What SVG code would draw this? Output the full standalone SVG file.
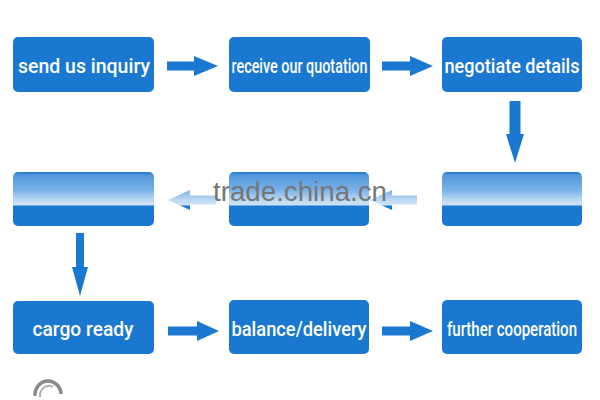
<svg xmlns="http://www.w3.org/2000/svg" width="600" height="400" viewBox="0 0 600 400">
<defs>
<linearGradient id="faded" gradientUnits="userSpaceOnUse" x1="0" y1="172" x2="0" y2="226">
<stop offset="0" stop-color="#1f78cc"/>
<stop offset="0.06" stop-color="#5297dd"/>
<stop offset="0.33" stop-color="#78b0e8"/>
<stop offset="0.52" stop-color="#bcd9f4"/>
<stop offset="0.61" stop-color="#cfe4f7"/>
<stop offset="0.63" stop-color="#1a78d0"/>
<stop offset="1" stop-color="#1a78d0"/>
</linearGradient>
</defs>
<style>
.box{fill:#1a78d0}
.fbox{fill:url(#faded)}
.arrow{fill:#1a78d0}
.farrow{fill:url(#faded)}
.lbl{font-family:Roboto,"Liberation Sans",Arial,sans-serif;font-size:20px;font-weight:500;fill:#ffffff;text-anchor:middle}
.tall{font-size:21px}
.wm{font-family:"Liberation Sans",Arial,sans-serif;font-size:27px;fill:#767676}
</style>
<rect width="600" height="400" fill="#ffffff"/>

<g id="connectors">
<polygon class="arrow" points="167,61.5 194,61.5 194,56 218,66 194,76 194,70.5 167,70.5"/>
<polygon class="arrow" points="382,61.5 410,61.5 410,56 433,66 410,76 410,70.5 382,70.5"/>
<polygon class="arrow" points="509.5,101 520.5,101 520.5,134 524,134 515,163 506,134 509.5,134"/>
<polygon class="farrow" points="417,195.5 392,195.5 392,190 370,200 392,210 392,204.5 417,204.5"/>
<polygon class="farrow" points="216,195.5 190,195.5 190,190 168,200 190,210 190,204.5 216,204.5"/>
<polygon class="arrow" points="76,233 84,233 84,267 88,267 80,296 72,267 76,267"/>
<polygon class="arrow" points="168,326.5 197,326.5 197,321 219,331 197,341 197,335.5 168,335.5"/>
<polygon class="arrow" points="382,326.5 410,326.5 410,321 433,331 410,341 410,335.5 382,335.5"/>
</g>

<g id="n1"><rect class="box" x="13" y="37" width="141" height="55" rx="5"/><text class="lbl" x="84" y="73" textLength="132" lengthAdjust="spacingAndGlyphs">send us inquiry</text></g>
<g id="n2"><rect class="box" x="229" y="37" width="141" height="55" rx="5"/><text class="lbl tall" x="299.5" y="73" textLength="136" lengthAdjust="spacingAndGlyphs">receive our quotation</text></g>
<g id="n3"><rect class="box" x="442" y="37" width="140" height="55" rx="5"/><text class="lbl tall" x="512" y="73" textLength="135" lengthAdjust="spacingAndGlyphs">negotiate details</text></g>

<g id="n4"><rect class="fbox" x="442" y="172" width="140" height="54" rx="5"/></g>
<g id="n5"><rect class="fbox" x="229" y="172" width="140" height="54" rx="5"/></g>
<g id="n6"><rect class="fbox" x="13" y="172" width="141" height="54" rx="5"/></g>

<g id="n7"><rect class="box" x="13" y="301" width="141" height="53" rx="5"/><text class="lbl" x="83" y="336" textLength="101" lengthAdjust="spacingAndGlyphs">cargo ready</text></g>
<g id="n8"><rect class="box" x="229" y="300" width="140" height="54" rx="5"/><text class="lbl tall" x="299" y="336" textLength="135" lengthAdjust="spacingAndGlyphs">balance/delivery</text></g>
<g id="n9"><rect class="box" x="442" y="300" width="140" height="54" rx="5"/><text class="lbl" x="512" y="336" textLength="130" lengthAdjust="spacingAndGlyphs">further cooperation</text></g>

<text class="wm" x="213" y="201" textLength="174" lengthAdjust="spacingAndGlyphs">trade.china.cn</text>

<path d="M35 396 A13 14 0 0 1 61 394" fill="none" stroke="#8a8a8a" stroke-width="3.5"/>
<path d="M40 397 A9 10 0 0 1 53 387" fill="none" stroke="#b0b0b0" stroke-width="2"/>
</svg>
